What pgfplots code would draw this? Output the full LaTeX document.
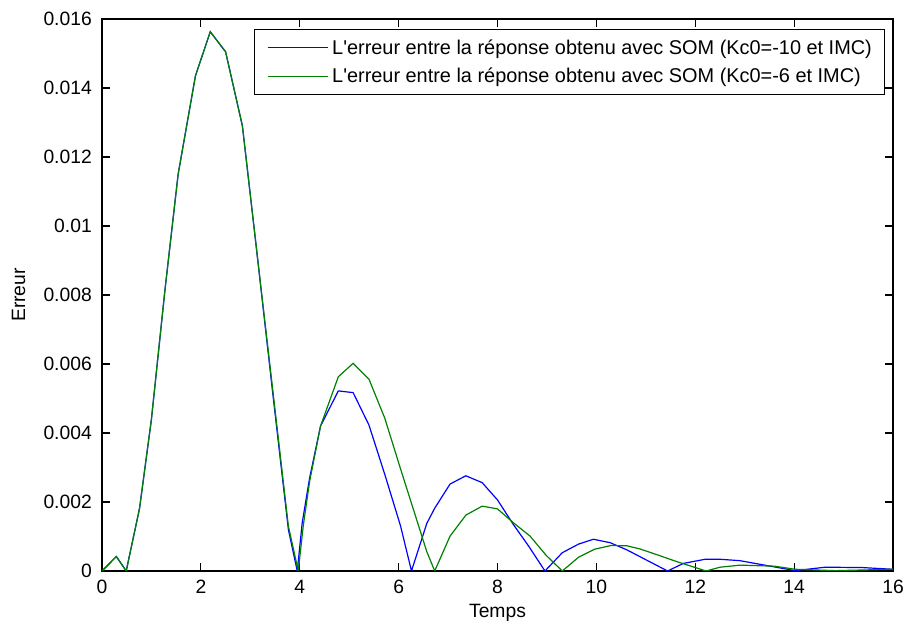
\documentclass[border=0pt]{standalone}
\usepackage{fontspec}
\setmainfont{Liberation Sans}[Ligatures=TeXOff]
\usepackage{pgfplots}
\pgfplotsset{compat=1.18}
\definecolor{mblue}{RGB}{0,0,255}
\definecolor{mgreen}{RGB}{0,128,0}
\newcommand{\ff}{\fontsize{19.3}{23}\selectfont}
\newcommand{\fl}{\fontsize{19.9}{23}\selectfont}
\begin{document}
\begin{tikzpicture}
\begin{axis}[
  scale only axis, width=791pt, height=552pt,
  xmin=0, xmax=16, ymin=0, ymax=0.016,
  xtick={0,2,4,6,8,10,12,14,16},
  ytick={0,0.002,0.004,0.006,0.008,0.01,0.012,0.014,0.016},
  yticklabels={0,0.002,0.004,0.006,0.008,0.01,0.012,0.014,0.016},
  scaled y ticks=false,
  /pgf/number format/assume math mode=true,
  tick align=inside, major tick length=8pt,
  axis line style={line width=1.2pt},
  every tick/.style={black, line width=1.2pt},
  every tick label/.append style={font=\ff, inner sep=0pt},
  xticklabel shift=9pt, yticklabel shift=10pt,
  xlabel={Temps}, ylabel={Erreur},
  xlabel style={font=\ff, at={(axis description cs:0.5,-0.0851)}, anchor=base},
  ylabel style={font=\ff, at={(axis description cs:-0.0973,0.5)}, anchor=base},
  legend style={at={(0.9899,0.9819)}, anchor=north east, font=\fl,
    draw=black, line width=1.2pt, inner xsep=12.5pt, inner ysep=10pt,
    row sep=12.5pt, column sep=4pt, nodes={inner sep=0pt}},
  legend cell align=left,
  legend image code/.code={\draw[#1, line width=1.2pt] (0pt,0pt) -- (60pt,0pt);},
]
\addplot[mblue, line width=1.2pt] coordinates {
(0,0) (0.29,0.00042) (0.49,0) (0.76,0.00182) (1.0,0.0044) (1.27,0.0081) (1.54,0.0115)
(1.89,0.01435) (2.19,0.01563) (2.50,0.01505) (2.84,0.0129) (3.12,0.0094) (3.45,0.0052)
(3.77,0.0012) (3.95,0) (4.05,0.0014) (4.2,0.0027) (4.42,0.0042) (4.78,0.00522)
(5.08,0.00517) (5.40,0.00423) (5.72,0.0028) (6.04,0.0013) (6.26,0) (6.57,0.00138)
(6.73,0.00182) (7.04,0.00252) (7.36,0.00276) (7.69,0.00256) (8.0,0.00206) (8.32,0.00135)
(8.64,0.0007) (8.96,0) (9.31,0.00053) (9.64,0.00078) (9.94,0.00092) (10.28,0.00082)
(10.62,0.00061) (11.44,0) (11.76,0.00022) (12.2,0.00034) (12.5,0.00034) (12.9,0.0003)
(13.21,0.00022) (14.02,0.00001) (14.63,0.00011) (15.37,0.0001) (16,0.00005)
};
\addlegendentry{L'erreur entre la réponse obtenu avec SOM (Kc0=-10 et IMC)}
\addplot[mgreen, line width=1.2pt] coordinates {
(0,0) (0.29,0.00042) (0.49,0) (0.76,0.00182) (1.0,0.0044) (1.27,0.0081) (1.54,0.0115)
(1.89,0.01435) (2.19,0.01563) (2.50,0.01505) (2.84,0.0129) (3.12,0.0094) (3.45,0.0053)
(3.77,0.0013) (3.97,0) (4.07,0.0013) (4.2,0.0026) (4.42,0.0042) (4.78,0.00563)
(5.08,0.00602) (5.40,0.00556) (5.72,0.00443) (6.03,0.0030) (6.57,0.00056) (6.73,0)
(7.04,0.00101) (7.36,0.00162) (7.69,0.00188) (8.0,0.0018) (8.32,0.0014) (8.66,0.00101)
(8.98,0.00046) (9.31,0) (9.64,0.0004) (9.96,0.00063) (10.3,0.00074) (10.62,0.00073)
(10.88,0.00064) (11.29,0.00044) (11.63,0.00027) (12.22,0) (12.5,0.00011) (12.91,0.00017)
(13.6,0.00014) (14.02,0.00005) (14.83,0.00001) (16,0.00005)
};
\addlegendentry{L'erreur entre la réponse obtenu avec SOM (Kc0=-6 et IMC)}
\end{axis}
\pgfresetboundingbox
\path (-102pt,-52pt) rectangle (802pt,571pt);
\end{tikzpicture}
\end{document}
